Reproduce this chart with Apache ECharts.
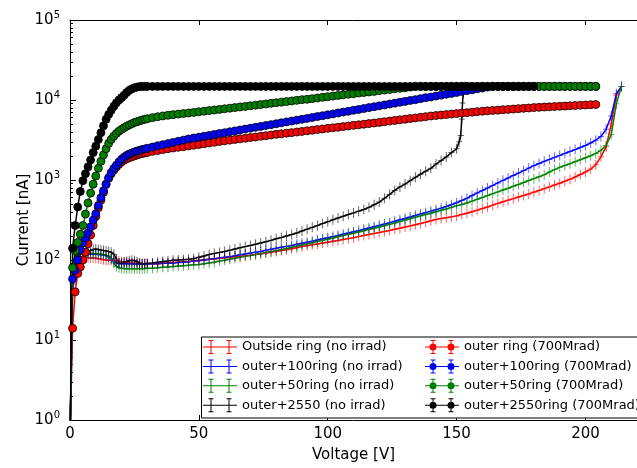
<!DOCTYPE html>
<html>
<head>
<meta charset="utf-8">
<script src="https://cdn.jsdelivr.net/npm/echarts@6/dist/echarts.min.js"></script>
<style>
  html, body { margin: 0; padding: 0; background: #fff; }
  #chart { width: 637px; height: 468px; }
</style>
</head>
<body>
<div id="chart"></div>
<script>
// Bias voltage steps [V]: 1 V steps up to 30 V, then 2 V steps
const voltages = [
  0, 1, 2, 3, 4, 5, 6, 7, 8, 9, 10, 11, 12, 13, 14, 15, 16, 17, 18, 19, 20, 21, 22, 23, 24, 25, 26, 27, 28, 29, 30,
  32, 34, 36, 38, 40, 42, 44, 46, 48, 50, 52, 54, 56, 58, 60, 62, 64, 66, 68, 70,
  72, 74, 76, 78, 80, 82, 84, 86, 88, 90, 92, 94, 96, 98, 100, 102, 104, 106, 108, 110,
  112, 114, 116, 118, 120, 122, 124, 126, 128, 130, 132, 134, 136, 138, 140, 142, 144, 146, 148, 150,
  152, 154, 156, 158, 160, 162, 164, 166, 168, 170, 172, 174, 176, 178, 180, 182, 184, 186, 188, 190,
  192, 194, 196, 198, 200, 202, 204, 206, 208, 210, 212, 214
];

// Leakage current [nA], not irradiated
const outsideRingNoIrrad = [
  0.5, 40, 88, 100, 107, 109, 108, 107, 106, 106, 105, 104, 103, 101, 100, 99, 99, 99, 98, 97, 95, 94, 93, 92, 91, 91, 90, 90, 90, 90, 90,
  90, 90, 91, 92, 93, 94, 95, 96, 97, 99,
  100, 102, 103, 105, 106, 108, 110, 111, 113, 115,
  117, 120, 122, 125, 128, 131, 134, 138, 142, 147,
  151, 155, 159, 163, 167, 171, 175, 180, 185, 190,
  196, 202, 208, 214, 220, 227, 234, 242, 250, 258,
  267, 276, 286, 297, 309, 320, 330, 338, 346, 356,
  370, 385, 402, 420, 440, 460, 485, 510, 535, 560,
  585, 612, 640, 670, 705, 740, 780, 820, 865, 912,
  965, 1020, 1090, 1170, 1260, 1370, 1550, 1950, 2600, 5000, 11500, 14800
];
const outer100NoIrrad = [
  0.5, 50, 100, 115, 119, 120, 120, 120, 119, 119, 118, 117, 116, 115, 113, 109, 104, 97, 92, 90, 90, 90, 90, 90, 90, 89, 89, 89, 89, 89, 89,
  90, 90, 91, 91, 92, 93, 94, 95, 97, 98,
  100, 102, 104, 106, 108, 110, 113, 116, 119, 122,
  125, 128, 132, 136, 140, 144, 148, 152, 157, 162,
  167, 172, 178, 184, 190, 196, 203, 210, 217, 225,
  233, 242, 251, 261, 271, 282, 293, 305, 318, 331,
  345, 360, 375, 391, 408, 426, 445, 466, 490, 520,
  555, 590, 640, 690, 740, 795, 855, 920, 990, 1060,
  1140, 1220, 1310, 1410, 1510, 1610, 1710, 1810, 1920, 2030,
  2150, 2270, 2400, 2550, 2700, 2900, 3150, 3500, 4300, 6300, 12000, 14800
];
const outer50NoIrrad = [
  0.5, 50, 100, 115, 119, 120, 121, 121, 121, 121, 120, 119, 118, 117, 115, 111, 105, 92, 83, 80, 79, 78, 78, 78, 78, 78, 78, 78, 78, 78, 79,
  79, 80, 81, 82, 83, 84, 85, 86, 87, 88,
  90, 92, 94, 97, 99, 102, 105, 108, 111, 114,
  117, 120, 124, 128, 131, 135, 139, 144, 149, 154,
  159, 164, 170, 176, 182, 188, 195, 202, 209, 216,
  224, 232, 240, 249, 258, 268, 279, 290, 302, 315,
  328, 342, 356, 370, 385, 402, 418, 435, 455, 475,
  495, 515, 545, 575, 605, 640, 675, 710, 750, 790,
  835, 880, 930, 985, 1040, 1100, 1160, 1260, 1350, 1440,
  1520, 1600, 1690, 1790, 1900, 2010, 2150, 2350, 2700, 3700, 9000, 14800
];
const outer2550NoIrrad = [
  0.5, 60, 100, 112, 118, 121, 124, 127, 131, 135, 137, 135, 133, 131, 130, 128, 125, 118, 103, 91, 92, 94, 96, 98, 99, 98, 95, 92, 90, 90, 91,
  92, 94, 96, 97, 99, 100, 101, 102, 104, 108,
  112, 117, 121, 124, 128, 132, 137, 142, 147, 152,
  157, 163, 169, 176, 184, 191, 199, 208, 218, 230,
  243, 256, 270, 285, 300, 318, 335, 352, 370, 388,
  408, 428, 455, 490, 530, 590, 660, 740, 820, 890,
  980, 1080, 1180, 1290, 1400, 1580, 1750, 1940, 2200, 2450
];
// breakdown of the 2550 structure: [voltage, current]
const outer2550NoIrradBreakdown = [
  [151, 3000], [151.6, 3600], [152, 5750], [152.3, 9200], [152.6, 12300], [153, 14800]
];

// Leakage current [nA], after 700 Mrad (14.8 uA compliance)
const outerRing700 = [
  0.5, 14, 40, 68, 82, 100, 125, 160, 205, 270, 350, 450, 560, 700, 890, 1050, 1200, 1330, 1450, 1570, 1680, 1770, 1840, 1900, 1950, 2000, 2050, 2100, 2140, 2180, 2210,
  2280, 2340, 2400, 2460, 2510, 2560, 2610, 2660, 2720, 2780,
  2840, 2900, 2960, 3030, 3090, 3150, 3210, 3270, 3330, 3390,
  3450, 3520, 3580, 3650, 3720, 3780, 3850, 3910, 3980, 4050,
  4120, 4190, 4270, 4340, 4420, 4490, 4570, 4650, 4730, 4820,
  4900, 4980, 5070, 5160, 5250, 5350, 5450, 5550, 5650, 5750,
  5860, 5970, 6080, 6190, 6310, 6400, 6490, 6580, 6670, 6760,
  6860, 6950, 7050, 7150, 7240, 7320, 7400, 7470, 7550, 7630,
  7710, 7790, 7870, 7950, 8040, 8100, 8160, 8220, 8280, 8340,
  8400, 8470, 8530, 8600, 8660, 8730, 8790
];
const outer100Ring700 = [
  0.5, 58, 74, 100, 134, 163, 188, 218, 260, 315, 378, 480, 600, 735, 880, 1070, 1240, 1390, 1530, 1680, 1820, 1930, 2030, 2110, 2180, 2240, 2300, 2350, 2400, 2445, 2490,
  2580, 2680, 2760, 2850, 2950, 3050, 3150, 3260, 3350, 3430,
  3520, 3610, 3710, 3810, 3900, 4010, 4110, 4220, 4330, 4440,
  4560, 4680, 4800, 4920, 5050, 5180, 5320, 5460, 5600, 5740,
  5890, 6050, 6210, 6370, 6530, 6700, 6880, 7060, 7240, 7430,
  7620, 7820, 8030, 8240, 8450, 8670, 8900, 9130, 9370, 9610,
  9860, 10100, 10400, 10700, 10900, 11200, 11500, 11800, 12100, 12400,
  12800, 13100, 13400, 13800, 14100, 14500, 14800, 14800, 14800, 14800,
  14800, 14800, 14800, 14800, 14800, 14800, 14800, 14800, 14800, 14800,
  14800, 14800, 14800, 14800, 14800, 14800, 14800
];
const outer50Ring700 = [
  0.5, 80, 130, 166, 210, 270, 375, 517, 686, 885, 1120, 1400, 1710, 2060, 2460, 2870, 3220, 3530, 3820, 4080, 4300, 4510, 4700, 4880, 5060, 5220, 5360, 5490, 5620, 5730, 5830,
  6020, 6180, 6320, 6440, 6560, 6670, 6780, 6880, 7000, 7120,
  7250, 7370, 7500, 7630, 7770, 7900, 8040, 8180, 8320, 8470,
  8620, 8770, 8920, 9080, 9240, 9400, 9560, 9730, 9900, 10100,
  10200, 10400, 10600, 10800, 11000, 11200, 11400, 11600, 11800, 12000,
  12200, 12400, 12600, 12800, 13100, 13300, 13500, 13800, 14000, 14200,
  14500, 14800, 14800, 14800, 14800, 14800, 14800, 14800, 14800, 14800,
  14800, 14800, 14800, 14800, 14800, 14800, 14800, 14800, 14800, 14800,
  14800, 14800, 14800, 14800, 14800, 14800, 14800, 14800, 14800, 14800,
  14800, 14800, 14800, 14800, 14800, 14800, 14800
];
const outer2550Ring700 = [
  0.5, 140, 270, 460, 720, 980, 1200, 1460, 1780, 2200, 2650, 3200, 3900, 4750, 5750, 6600, 7450, 8350, 9230, 10000, 10700, 11500, 12400, 13200, 13800, 14200, 14500, 14700, 14800, 14800, 14800,
  14800, 14800, 14800, 14800, 14800, 14800, 14800, 14800, 14800, 14800,
  14800, 14800, 14800, 14800, 14800, 14800, 14800, 14800, 14800, 14800,
  14800, 14800, 14800, 14800, 14800, 14800, 14800, 14800, 14800, 14800,
  14800, 14800, 14800, 14800, 14800, 14800, 14800, 14800, 14800, 14800,
  14800, 14800, 14800, 14800, 14800, 14800, 14800, 14800, 14800, 14800,
  14800, 14800, 14800, 14800, 14800, 14800, 14800, 14800, 14800, 14800,
  14800, 14800, 14800, 14800, 14800, 14800, 14800, 14800, 14800, 14800,
  14800, 14800, 14800, 14800, 14800
];

const xTicks = { min: 0, max: 220, step: 50 };
const yDecades = { min: 1, max: 100000 };
const minorTickValues = [];
for (let d = 1; d < yDecades.max; d *= 10) {
  for (let m = 2; m <= 9; m++) minorTickValues.push(m * d);
}

const FONT = "'DejaVu Sans', 'Noto Sans', sans-serif";
const RED = '#ff0000', BLUE = '#0000ff', GREEN = '#008000', BLACK = '#000000';

const PLUS = 'path://M-0.5,-5H0.5V5H-0.5Z M-3,-0.5H3V0.5H-3Z';
const ICON_PLUS = 'path://M0,6.5H34V7.5H0Z M7.5,0H8.5V14H7.5Z M25.5,0H26.5V14H25.5Z ' +
  'M5.5,0H10.5V1H5.5Z M5.5,13H10.5V14H5.5Z M23.5,0H28.5V1H23.5Z M23.5,13H28.5V14H23.5Z';
const ICON_DOT = 'path://M0,6.5H34V7.5H0Z M7.5,0H8.5V14H7.5Z M25.5,0H26.5V14H25.5Z ' +
  'M5.5,0H10.5V1H5.5Z M5.5,13H10.5V14H5.5Z M23.5,0H28.5V1H23.5Z M23.5,13H28.5V14H23.5Z ' +
  'M11.5,7A3.5,3.5 0 1 1 4.5,7A3.5,3.5 0 1 1 11.5,7Z M29.5,7A3.5,3.5 0 1 1 22.5,7A3.5,3.5 0 1 1 29.5,7Z';

const pair = arr => arr.map((c, i) => [voltages[i], c]);

function noIrradSeries(name, color, values) {
  return {
    name, type: 'line', data: values,
    symbol: PLUS, symbolSize: [6, 10],
    itemStyle: { color: color, opacity: 0.6 },
    lineStyle: { color: color, width: 1.5 },
    clip: true
  };
}
function irradSeries(name, color, values) {
  return {
    name, type: 'line', data: values,
    symbol: 'circle', symbolSize: 8,
    itemStyle: { color: color, borderColor: '#000', borderWidth: 0.8 },
    lineStyle: { color: color, width: 1.5 },
    clip: true
  };
}

const names = [
  'Outside ring (no irrad)', 'outer+100ring (no irrad)', 'outer+50ring (no irrad)', 'outer+2550 (no irrad)',
  'outer ring (700Mrad)', 'outer+100ring (700Mrad)', 'outer+50ring (700Mrad)', 'outer+2550ring (700Mrad)'
];
const colors = [RED, BLUE, GREEN, BLACK, RED, BLUE, GREEN, BLACK];

const series = [
  noIrradSeries(names[0], RED, pair(outsideRingNoIrrad)),
  noIrradSeries(names[1], BLUE, pair(outer100NoIrrad)),
  noIrradSeries(names[2], GREEN, pair(outer50NoIrrad)),
  noIrradSeries(names[3], BLACK, pair(outer2550NoIrrad).concat(outer2550NoIrradBreakdown)),
  irradSeries(names[4], RED, pair(outerRing700)),
  irradSeries(names[5], BLUE, pair(outer100Ring700)),
  irradSeries(names[6], GREEN, pair(outer50Ring700)),
  irradSeries(names[7], BLACK, pair(outer2550Ring700))
];

function legendItems(from, to) {
  const out = [];
  for (let i = from; i < to; i++) {
    out.push({
      name: names[i],
      icon: i < 4 ? ICON_PLUS : ICON_DOT,
      itemStyle: { color: colors[i], opacity: 1, borderWidth: 0 }
    });
  }
  return out;
}
const legendBase = {
  orient: 'vertical', top: 340, itemWidth: 34, itemHeight: 14, itemGap: 5.4, padding: 0,
  selectedMode: false, z: 10, symbolKeepAspect: false,
  textStyle: { fontSize: 13, fontFamily: FONT, color: '#000', lineHeight: 14 }
};

const axisFont = { fontSize: 15, fontFamily: FONT, color: '#000' };

const option = {
  animation: false,
  backgroundColor: '#fff',
  textStyle: { fontFamily: FONT },
  grid: { left: 70, right: -16, top: 20, bottom: 43, containLabel: false },
  xAxis: [
    {
      type: 'value', min: xTicks.min, max: xTicks.max, interval: xTicks.step, position: 'bottom',
      axisLine: { lineStyle: { color: '#000', width: 1 } },
      axisTick: { inside: true, length: 5, lineStyle: { color: '#000' } },
      axisLabel: Object.assign({ margin: 7, showMaxLabel: false }, axisFont),
      splitLine: { show: false },
      name: 'Voltage [V]', nameLocation: 'middle', nameGap: 28, nameMoveOverlap: false,
      nameTextStyle: axisFont
    },
    {
      type: 'value', min: xTicks.min, max: xTicks.max, interval: xTicks.step, position: 'top',
      axisLine: { lineStyle: { color: '#000', width: 1 } },
      axisTick: { inside: true, length: 5, lineStyle: { color: '#000' } },
      axisLabel: { show: false }, splitLine: { show: false }
    }
  ],
  yAxis: [
    {
      type: 'log', logBase: 10, min: yDecades.min, max: yDecades.max, position: 'left',
      axisLine: { show: true, lineStyle: { color: '#000', width: 1 } },
      axisTick: { inside: true, length: 6, lineStyle: { color: '#000' } },
      axisLabel: {
        margin: 10,
        formatter: v => '{b|10}{s|' + Math.round(Math.log10(v)) + '}',
        rich: {
          b: { fontSize: 15, fontFamily: FONT, color: '#000', lineHeight: 20, verticalAlign: 'middle' },
          s: { fontSize: 10, fontFamily: FONT, color: '#000', lineHeight: 10, padding: [0, 0, 9, 0], verticalAlign: 'middle' }
        }
      },
      splitLine: { show: false },
      name: 'Current [nA]', nameLocation: 'middle', nameGap: 38, nameMoveOverlap: false,
      nameTextStyle: axisFont
    },
    {
      type: 'log', logBase: 10, min: yDecades.min, max: yDecades.max, position: 'left',
      axisLine: { show: false },
      axisTick: { inside: true, length: 3, lineStyle: { color: '#000' }, customValues: minorTickValues },
      axisLabel: { show: false }, splitLine: { show: false }
    }
  ],
  legend: [
    Object.assign({ left: 203, data: legendItems(0, 4) }, legendBase),
    Object.assign({ left: 425, data: legendItems(4, 8) }, legendBase)
  ],
  graphic: [{
    type: 'rect', left: 201, top: 336.5, silent: true, z: 5,
    shape: { width: 460, height: 81 },
    style: { fill: '#fff', stroke: '#000', lineWidth: 1 }
  }],
  series: series
};

const chart = echarts.init(document.getElementById('chart'), null, { renderer: 'canvas' });
chart.setOption(option);
</script>
</body>
</html>
